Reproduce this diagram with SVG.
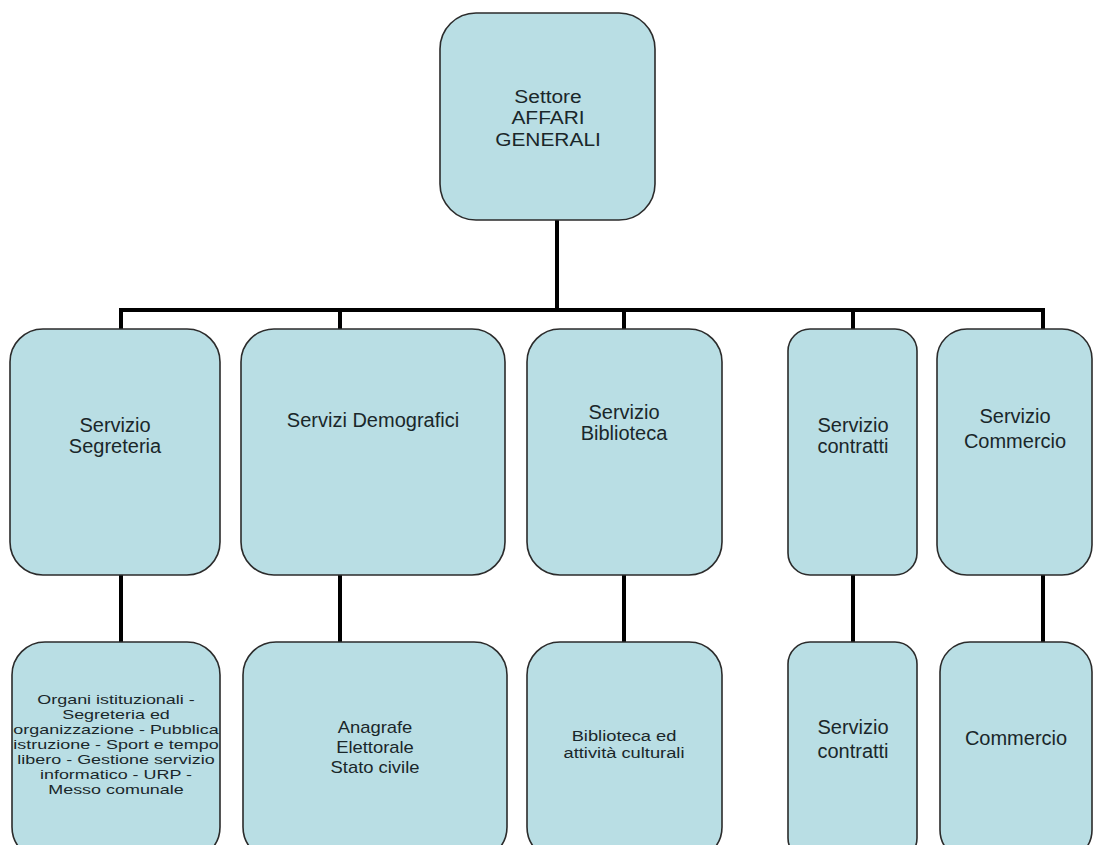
<svg xmlns="http://www.w3.org/2000/svg" width="1094" height="845" viewBox="0 0 1094 845">
<style>
.box{fill:#b9dee4;stroke:#2b2b2b;stroke-width:1.6}
.t{font-family:"Liberation Sans",Arial,sans-serif;fill:#1a272a;text-anchor:middle}
.big{font-size:20px}
.mid{font-size:16px}
.sm{font-size:13px}
.c{stroke:#000;stroke-width:4;fill:none}
</style>
<rect width="1094" height="845" fill="#fff"/>
<g id="connectors">
<path class="c" d="M557 220V310M121 310H1043M121 308V329M340 308V329M624 308V329M853 308V329M1043 308V329"/>
<path class="c" d="M121 575V642M340 575V642M624 575V642M853 575V642M1043 575V642" stroke-width="3.5"/>
</g>
<g id="n_top">
<rect class="box" x="440" y="13" width="215" height="207" rx="36"/>
<g transform="translate(548,0) scale(1.1,1)">
<text class="t big" style="font-size:19px" x="0" y="103">Settore</text>
<text class="t big" style="font-size:19px" x="0" y="124">AFFARI</text>
<text class="t big" style="font-size:19px" x="0" y="146">GENERALI</text>
</g>
</g>
<g id="n_segreteria">
<rect class="box" x="10" y="329" width="210" height="246" rx="33"/>
<text class="t big" x="115" y="432">Servizio</text>
<text class="t big" x="115" y="453">Segreteria</text>
</g>
<g id="n_demografici">
<rect class="box" x="241" y="329" width="264" height="246" rx="33"/>
<text class="t big" x="373" y="427">Servizi Demografici</text>
</g>
<g id="n_biblioteca">
<rect class="box" x="527" y="329" width="195" height="246" rx="33"/>
<text class="t big" x="624" y="419">Servizio</text>
<text class="t big" x="624" y="440">Biblioteca</text>
</g>
<g id="n_contratti">
<rect class="box" x="788" y="329" width="129" height="246" rx="22"/>
<text class="t big" x="853" y="432">Servizio</text>
<text class="t big" x="853" y="453">contratti</text>
</g>
<g id="n_commercio">
<rect class="box" x="937" y="329" width="155" height="246" rx="30"/>
<text class="t big" x="1015" y="423">Servizio</text>
<text class="t big" x="1015" y="448">Commercio</text>
</g>
<g id="n_segreteria_sub">
<rect class="box" x="12" y="642" width="208" height="218" rx="33"/>
<g transform="translate(116,0) scale(1.38,1)">
<text class="t sm" x="0" y="704">Organi istituzionali -</text>
<text class="t sm" x="0" y="719">Segreteria ed</text>
<text class="t sm" x="0" y="734">organizzazione - Pubblica</text>
<text class="t sm" x="0" y="749">istruzione - Sport e tempo</text>
<text class="t sm" x="0" y="764">libero - Gestione servizio</text>
<text class="t sm" x="0" y="779">informatico - URP -</text>
<text class="t sm" x="0" y="794">Messo comunale</text>
</g>
</g>
<g id="n_demografici_sub">
<rect class="box" x="243" y="642" width="264" height="218" rx="33"/>
<g transform="translate(375,0) scale(1.15,1)">
<text class="t mid" x="0" y="733">Anagrafe</text>
<text class="t mid" x="0" y="753">Elettorale</text>
<text class="t mid" x="0" y="773">Stato civile</text>
</g>
</g>
<g id="n_biblioteca_sub">
<rect class="box" x="527" y="642" width="195" height="218" rx="33"/>
<g transform="translate(624,0) scale(1.22,1)">
<text class="t" style="font-size:15px" x="0" y="741">Biblioteca ed</text>
<text class="t" style="font-size:15px" x="0" y="758">attività culturali</text>
</g>
</g>
<g id="n_contratti_sub">
<rect class="box" x="788" y="642" width="129" height="218" rx="22"/>
<text class="t big" x="853" y="734">Servizio</text>
<text class="t big" x="853" y="758">contratti</text>
</g>
<g id="n_commercio_sub">
<rect class="box" x="940" y="642" width="152" height="218" rx="30"/>
<text class="t big" x="1016" y="745">Commercio</text>
</g>
</svg>
